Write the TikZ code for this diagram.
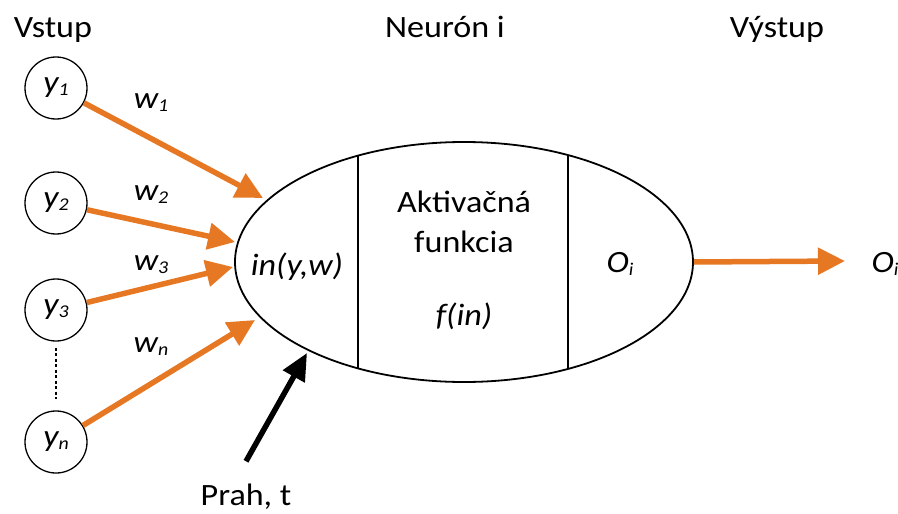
\documentclass[tikz,border=0pt]{standalone}
\usepackage{fontspec}
\setmainfont{Carlito}[FakeStretch=1.1]
\usetikzlibrary{arrows.meta,shapes.geometric}
\definecolor{arroworange}{RGB}{230,120,36}
\newcommand{\idx}[1]{\raisebox{-3pt}{\fontsize{18}{20}\selectfont\itshape #1}}
\tikzset{
    every node/.append style={font=\fontsize{31}{36}\selectfont}, % text size of the whole picture
    }

\begin{document}
\begin{tikzpicture}[x=1pt,y=-1pt,
roundnode/.style={circle, draw=black, line width=1.3pt, minimum size=62pt, inner sep=0pt},
neuronnode/.style={ellipse, draw=black, line width=1.8pt, minimum width=458pt, minimum height=240pt},
textnode/.style={anchor=base, inner sep=0pt},
weightarrow/.style={line width=5.5pt, arroworange, -{Triangle[length=27pt,width=26pt]}},
prahlarrow/.style={line width=5.5pt, black, -{Triangle[length=27pt,width=24pt]}},
]
\useasboundingbox (0,0) rectangle (898,514);

% headings
\node[textnode] (vstup) at (53,37) {Vstup};
\node[textnode] (neurontitle) at (445,37) {Neurón i};
\node[textnode] (vystup) at (777,37) {Výstup};

% inputs
\node[roundnode] (y1) at (56,88) {\itshape y\idx{1}};
\node[roundnode] (y2) at (56,203) {\itshape y\idx{2}};
\node[roundnode] (y3) at (56,310) {\itshape y\idx{3}};
\node[roundnode] (yn) at (56,442) {\itshape y\idx{n}};
\draw[line width=1.2pt, dash pattern=on 3pt off 2.5pt] ([yshift=-6pt]y3.south) -- ([yshift=11pt]yn.north);

% neuron
\node[neuronnode] (neuron) at (464,262) {};
\begin{scope}
\clip (464,262) ellipse [x radius=229pt, y radius=120pt];
\draw[line width=1.8pt] (358,100) -- (358,420) (568,100) -- (568,420);
\end{scope}
\node[textnode] (inyw) at (297,275) {\itshape in(y,w)};
\node[textnode] (aktiv) at (464,212) {Aktivačná};
\node[textnode] (funk) at (464,252) {funkcia};
\node[textnode] (fin) at (464,325) {\itshape f(in)};
\node[textnode] (oin) at (620,272) {\itshape O\idx{i}};

% weights
\coordinate (t1) at (263,198);
\coordinate (t2) at (235,242);
\coordinate (t3) at (233,267);
\coordinate (tn) at (255,320);
\draw[weightarrow] (y1) -- (t1);
\draw[weightarrow] (y2) -- (t2);
\draw[weightarrow] (y3) -- (t3);
\draw[weightarrow] (yn) -- (tn);
\node[textnode] (w1) at (151,108) {\itshape w\idx{1}};
\node[textnode] (w2) at (151,200) {\itshape w\idx{2}};
\node[textnode] (w3) at (151,270) {\itshape w\idx{3}};
\node[textnode] (wn) at (151,352) {\itshape w\idx{n}};

% output
\node[textnode] (oout) at (885,272) {\itshape O\idx{i}};
\coordinate (tout) at (845,261);
\draw[weightarrow] (neuron.east) -- (tout);

% threshold
\node[textnode] (prah) at (246,505) {Prah, t};
\coordinate (tp) at (307,353);
\draw[prahlarrow] ([yshift=22pt]prah.north) -- (tp);
\end{tikzpicture}
\end{document}
